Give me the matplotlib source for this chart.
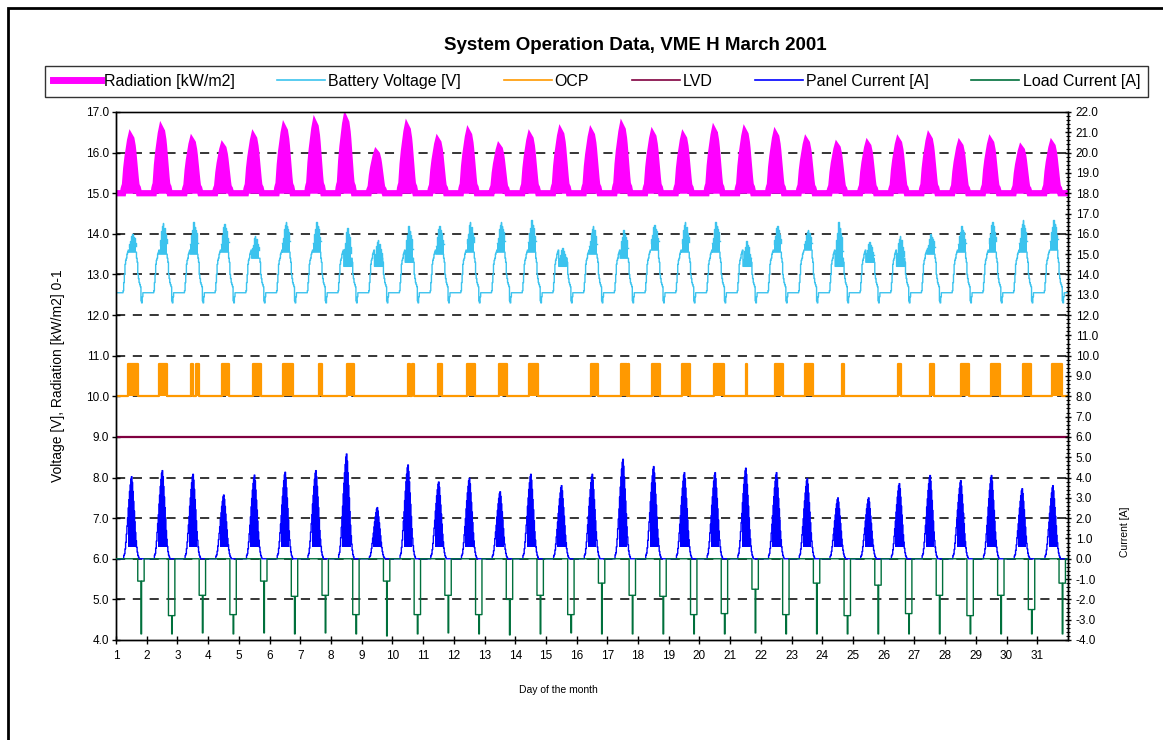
import numpy as np
import matplotlib
matplotlib.use("Agg")
import matplotlib.pyplot as plt
from matplotlib.ticker import MultipleLocator, FormatStrFormatter
from matplotlib.patches import Rectangle
from matplotlib.lines import Line2D

plt.rcParams['font.family'] = ['Liberation Sans', 'DejaVu Sans']

# ---------------- data ----------------
days = list(range(1, 32))

# Radiation trace (axis units, offset baseline 15.0), daily peak
rad_base = 15.0
rad_peak = [16.37, 16.55, 16.27, 16.13, 16.37, 16.57, 16.68, 16.78, 15.98, 16.60, 16.27,
            16.46, 16.11, 16.37, 16.48, 16.46, 16.60, 16.42, 16.37, 16.51, 16.48, 16.42,
            16.26, 16.14, 16.18, 16.26, 16.35, 16.18, 16.26, 16.08, 16.18]
# half-hourly daily profile (fraction of the peak), read from a typical day
rad_shape = [0] * 12 + [0.08, 0.12, 0.15, 0.30, 0.45, 0.55, 0.65, 0.72, 0.80, 0.88, 0.95, 1.00,
                        0.98, 0.92, 0.85, 0.75, 0.62, 0.50, 0.38, 0.25, 0.15, 0.12, 0.10, 0.05] + [0] * 12

# Battery voltage [V]: daily spike maximum and bottom of the noisy midday band
volt_hi = [14.00, 14.27, 14.30, 14.25, 13.95, 14.30, 14.30, 14.15, 13.86, 14.20, 14.20,
           14.28, 14.30, 14.35, 13.65, 14.20, 14.10, 14.22, 14.28, 14.30, 13.82, 14.20,
           14.10, 14.30, 13.80, 13.95, 14.00, 14.20, 14.30, 14.33, 14.35]
volt_lo = [13.55, 13.50, 13.50, 13.55, 13.40, 13.55, 13.55, 13.20, 13.20, 13.30, 13.50,
           13.55, 13.55, 13.55, 13.20, 13.50, 13.40, 13.60, 13.55, 13.55, 13.20, 13.55,
           13.60, 13.20, 13.30, 13.20, 13.50, 13.55, 13.55, 13.55, 13.60]
# half-hourly typical voltage outside the band (None = band slot)
volt_shape = ([12.55] * 11 + [12.60, 12.80, 13.00, 13.25, 13.35, 13.40, 13.50, 13.55, 13.60]
              + [None] * 12
              + [13.40, 13.30, 13.00, 12.90, 12.80, 12.75, 12.70, 12.35, 12.30, 12.45] + [12.55] * 6)
volt_band_frac = [0.30, 0.45, 0.60, 0.75, 0.90, 1.00, 0.80, 0.85, 0.75, 0.65, 0.50, 0.35]

# OCP (over-charge protection) on-intervals [day]
ocp_low, ocp_high = 10.0, 10.8
ocp_on = [(1.40, 1.73), (2.41, 2.67), (3.43, 3.52), (3.59, 3.69), (4.44, 4.67), (5.45, 5.71),
          (6.43, 6.76), (7.61, 7.70), (8.53, 8.76), (10.51, 10.58), (10.64, 10.71), (11.49, 11.62),
          (12.44, 12.70), (13.48, 13.74), (14.46, 14.75), (16.48, 16.71), (17.43, 17.63),
          (17.66, 17.72), (18.44, 18.70), (19.42, 19.68), (20.47, 20.79), (21.51, 21.55),
          (22.46, 22.72), (23.44, 23.70), (24.65, 24.72), (26.48, 26.55), (27.52, 27.65),
          (28.50, 28.79), (29.48, 29.77), (30.52, 30.78), (31.47, 31.80)]

# LVD level (axis units)
lvd_level = 9.0

# Panel current [A]: daily peak
pc_peak = [4.04, 4.34, 4.16, 3.14, 4.12, 4.26, 4.34, 5.16, 2.52, 4.62, 3.78,
           3.96, 3.30, 4.16, 3.60, 4.16, 4.90, 4.54, 4.24, 4.24, 4.46, 4.24,
           3.95, 3.00, 3.00, 3.70, 4.10, 3.85, 4.10, 3.45, 3.60]
pc_shape = [0] * 12 + [0.04, 0.06, 0.12, 0.20, 0.30, 0.40, 0.50, 0.62, 0.72, 0.82, 0.90, 0.97,
                       1.00, 0.93, 0.82, 0.70, 0.58, 0.45, 0.32, 0.22, 0.14, 0.08, 0.04, 0.02] + [0] * 12
pc_band_low = 0.6

# Load current [A]: evening plateau level and spike minimum per day
load_step = [-1.1, -2.8, -1.8, -2.75, -1.1, -1.85, -1.8, -2.75, -1.1, -2.75, -1.8,
             -2.75, -2.0, -1.8, -2.75, -1.2, -1.8, -1.85, -2.75, -2.7, -1.5, -2.75,
             -1.2, -2.8, -1.3, -2.7, -1.8, -2.8, -1.8, -2.5, -1.2]
load_min = [-3.7, -3.7, -3.65, -3.7, -3.65, -3.7, -3.65, -3.7, -3.8, -3.7, -3.65,
            -3.7, -3.75, -3.7, -3.65, -3.7, -3.7, -3.7, -3.7, -3.7, -3.65, -3.7,
            -3.7, -3.7, -3.7, -3.7, -3.7, -3.7, -3.7, -3.7, -3.7]
# half-hourly pattern: 'S' = plateau, 'M' = spike minimum, 0 = off
load_pattern = [0] * 34 + ['S', 'S', 'S', 'S', 'S', 'M', 'S', 'S', 'S', 'S'] + [0] * 4

labels = ["Radiation [kW/m2]", "Battery Voltage [V]", "OCP", "LVD",
          "Panel Current [A]", "Load Current [A]"]
col_rad = '#FF00FF'
col_volt = '#3CC3EE'
col_ocp = '#FF9900'
col_lvd = '#800040'
col_pc = '#0000FF'
col_load = '#00703C'

# ---------------- build time series ----------------
n = 48
t = np.array([d + i / n for d in days for i in range(n)] + [32.0])
rad = []
volt = []
pc = []
load = []
for k, d in enumerate(days):
    for i in range(n):
        rad.append(rad_base + rad_shape[i] * (rad_peak[k] - rad_base))
        volt.append(volt_lo[k] if volt_shape[i] is None else volt_shape[i])
        pc.append(pc_shape[i] * pc_peak[k])
        p = load_pattern[i]
        load.append(load_step[k] if p == 'S' else (load_min[k] if p == 'M' else 0.0))
rad.append(rad[-1]); volt.append(volt[-1]); pc.append(pc[-1]); load.append(load[-1])
rad = np.array(rad); volt = np.array(volt); pc = np.array(pc); load = np.array(load)

band_idx = [i for i, v in enumerate(volt_shape) if v is None]

# ---------------- figure ----------------
W, H = 1163, 740
fig = plt.figure(figsize=(W / 100, H / 100), dpi=100)
fig.patch.set_facecolor('white')
ax = fig.add_axes([116 / W, 1 - 640 / H, (1068 - 116) / W, (640 - 112) / H])
ax2 = ax.twinx()

ax.set_xlim(1, 32)
ax.set_ylim(4.0, 17.0)
ax2.set_ylim(-4.0, 22.0)

for y in range(5, 17):
    ax.axhline(y, color='black', lw=1.1, dashes=(6, 5), zorder=0.5)

# radiation (noisy trace appears filled)
ax.fill_between(t, rad_base, rad, color=col_rad, lw=0, zorder=2)
ax.plot(t, rad, color=col_rad, lw=4.5, solid_joinstyle='miter', zorder=2)

# battery voltage with noisy midday band
ax.plot(t, volt, color=col_volt, lw=1.0, drawstyle='steps-post', zorder=2)
for k, d in enumerate(days):
    tb = [d + i / n for i in band_idx] + [d + (band_idx[-1] + 1) / n]
    up = [volt_lo[k] + f * (volt_hi[k] - volt_lo[k]) for f in volt_band_frac]
    up = up + [up[-1]]
    lo = [volt_lo[k]] * len(tb)
    ax.fill_between(tb, lo, up, step='post', color=col_volt, lw=0, zorder=2)
    ax.plot(tb, up, color=col_volt, lw=1.0, drawstyle='steps-post', zorder=2)

# OCP
to = [1.0]; vo = [ocp_low]
for s, e in ocp_on:
    to += [s, s, e, e]
    vo += [ocp_low, ocp_high, ocp_high, ocp_low]
    ax.fill_between([s, e], ocp_low, ocp_high, color=col_ocp, lw=0, zorder=2)
to.append(32.0); vo.append(ocp_low)
ax.plot(to, vo, color=col_ocp, lw=1.6, zorder=2)

# LVD
ax.plot([1, 32], [lvd_level, lvd_level], color=col_lvd, lw=1.6, zorder=2)

# panel current (right axis)
ax2.plot(t, pc, color=col_pc, lw=1.0, drawstyle='steps-post', zorder=2)
for k, d in enumerate(days):
    idx = [i for i in range(n) if pc_shape[i] * pc_peak[k] > pc_band_low and 18 <= i <= 30]
    if idx:
        tb = [d + i / n for i in idx] + [d + (idx[-1] + 1) / n]
        up = [pc_shape[i] * pc_peak[k] for i in idx]
        up = up + [up[-1]]
        ax2.fill_between(tb, pc_band_low, up, step='post', color=col_pc, lw=0, zorder=2)

# load current (right axis)
ax2.plot(t, load, color=col_load, lw=1.0, drawstyle='steps-post', zorder=3)

# ---------------- axes styling ----------------
ax.set_xticks(days)
ax.set_xticklabels([str(d) for d in days])
ax.yaxis.set_major_locator(MultipleLocator(1.0))
ax.yaxis.set_major_formatter(FormatStrFormatter('%.1f'))
ax2.yaxis.set_major_locator(MultipleLocator(1.0))
ax2.yaxis.set_minor_locator(MultipleLocator(0.2))
ax2.yaxis.set_major_formatter(FormatStrFormatter('%.1f'))
ax.tick_params(axis='both', direction='inout', length=6, width=1, labelsize=8.5, pad=2)
ax.tick_params(axis='x', pad=4)
ax2.tick_params(axis='y', which='major', direction='inout', length=5, width=1, labelsize=8.5, pad=3)
ax2.tick_params(axis='y', which='minor', direction='inout', length=3, width=0.8)
for a in (ax, ax2):
    for sp in a.spines.values():
        sp.set_color('black')
        sp.set_linewidth(1.0)
ax.spines['top'].set_color('#555555')

ax.set_ylabel("Voltage [V], Radiation [kW/m2] 0-1", fontsize=10, labelpad=15)
fig.text(1125 / W, 1 - 532 / H, "Current [A]", rotation=90, ha='center', va='center', fontsize=7.5)
fig.text(558 / W, 1 - 690 / H, "Day of the month", ha='center', va='center', fontsize=7.5)
fig.text(635 / W, 1 - 45 / H, "System Operation Data, VME H March 2001", ha='center', va='center',
         fontsize=13.5, fontweight='bold')

handles = [Line2D([], [], color=col_rad, lw=5),
           Line2D([], [], color=col_volt, lw=1.2),
           Line2D([], [], color=col_ocp, lw=1.2),
           Line2D([], [], color=col_lvd, lw=1.2),
           Line2D([], [], color=col_pc, lw=1.2),
           Line2D([], [], color=col_load, lw=1.2)]
leg = fig.legend(handles, labels, loc='center', ncol=6, mode='expand',
                 bbox_to_anchor=(45 / W, 1 - 101 / H, (1148 - 45) / W, 39 / H),
                 fontsize=11.5, handlelength=3.0, handletextpad=0.2, columnspacing=0.8,
                 frameon=True, fancybox=False, edgecolor='black', borderaxespad=0, borderpad=0.5)
leg.get_frame().set_linewidth(1.0)

fig.add_artist(Rectangle((8 / W, -0.2), 1.5, 1.2 - 8 / H, transform=fig.transFigure,
                         fill=False, lw=2, edgecolor='black'))

fig.savefig("out.png", dpi=100, facecolor='white')
